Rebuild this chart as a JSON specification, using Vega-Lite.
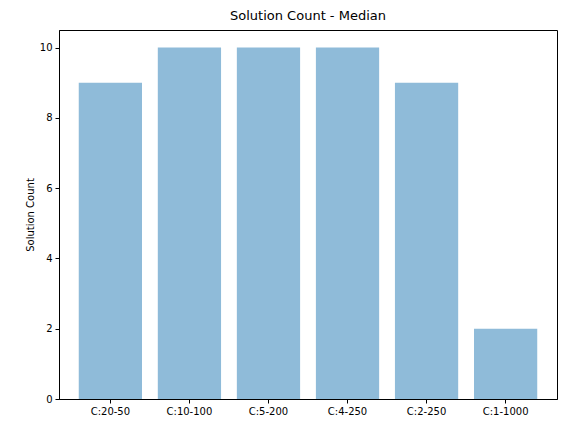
{
  "$schema": "https://vega.github.io/schema/vega-lite/v6.json",
  "autosize": "none",
  "padding": {"left": 59, "top": 30, "right": 9, "bottom": 34},
  "width": 498,
  "height": 369,
  "title": {"text": "Solution Count - Median", "font": "DejaVu Sans", "fontSize": 13, "fontWeight": "normal", "color": "black", "offset": 7},
  "data": {
    "values": [
      {"config": "C:20-50", "count": 9},
      {"config": "C:10-100", "count": 10},
      {"config": "C:5-200", "count": 10},
      {"config": "C:4-250", "count": 10},
      {"config": "C:2-250", "count": 9},
      {"config": "C:1-1000", "count": 2}
    ]
  },
  "mark": {"type": "bar", "color": "#1f77b4", "opacity": 0.5},
  "encoding": {
    "x": {
      "field": "config", "type": "nominal", "sort": null, "title": null,
      "scale": {"paddingInner": 0.2, "paddingOuter": 0.25},
      "axis": {"labelAngle": 0}
    },
    "y": {
      "field": "count", "type": "quantitative", "title": "Solution Count",
      "scale": {"domain": [0, 10.5], "nice": false},
      "axis": {"values": [0, 2, 4, 6, 8, 10], "grid": false}
    }
  },
  "config": {
    "view": {"stroke": "black", "strokeWidth": 1},
    "axis": {
      "domainColor": "black", "tickColor": "black", "tickSize": 4,
      "labelFont": "DejaVu Sans", "labelFontSize": 10, "labelColor": "black",
      "titleFont": "DejaVu Sans", "titleFontSize": 10, "titleFontWeight": "normal", "titleColor": "black",
      "labelPadding": 3
    }
  }
}
